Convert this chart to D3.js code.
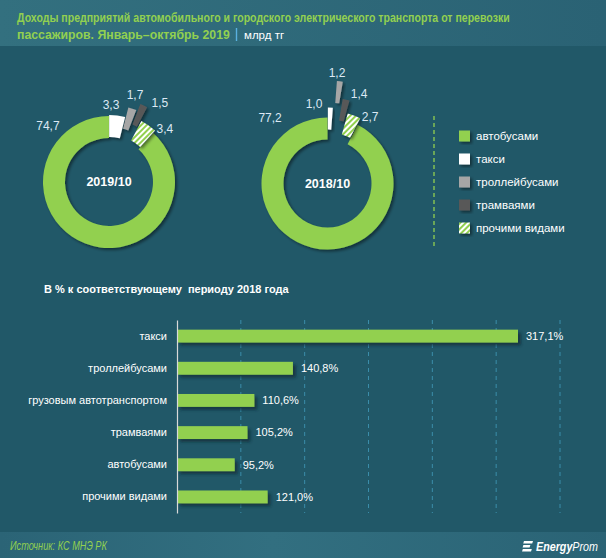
<!DOCTYPE html>
<html><head><meta charset="utf-8">
<script src="https://cdn.jsdelivr.net/npm/d3@7/dist/d3.min.js"></script>
<style>
html,body{margin:0;padding:0;background:#215868;}
svg{display:block;font-family:"Liberation Sans",Arial,sans-serif;}
</style></head>
<body>
<svg id="chart" width="606" height="558"></svg>
<script>
// ---------- DATA ----------
const categories = ["автобусами","такси","троллейбусами","трамваями","прочими видами"];
const values2019 = [74.7, 3.3, 1.7, 1.5, 3.4];
const values2018 = [77.2, 1.0, 1.2, 1.4, 2.7];
const donutTitles = ["2019/10", "2018/10"];
const barCategories = ["такси","троллейбусами","грузовым автотранспортом","трамваями","автобусами","прочими видами"];
const barValues = [317.1, 140.8, 110.6, 105.2, 95.2, 121.0];
const barTicks = [100, 150, 200, 250, 300, 350];
const titleLine1 = "Доходы предприятий автомобильного и городского электрического транспорта от перевозки";
const titleLine2 = "пассажиров. Январь–октябрь 2019";
const unitText = "млрд тг";
const subTitle = "В % к соответствующему  периоду 2018 года";
const sourceText = "Источник: КС МНЭ РК";

// ---------- STYLE / LAYOUT ----------
const W = 606, H = 558;
const GREEN = "#92d050";
const sliceFills = [GREEN, "#ffffff", "#a6a6a6", "#595959", "url(#stripes)"];
const donuts = [
  {values: values2019, cx: 109, cy: 182,
   explode: [0, 1, 11, 18, 3],
   labels: [[-47.4, 83], [1.5, 77], [16.6, 91], [32.8, 94], [46.6, 77]]},
  {values: values2018, cx: 327.5, cy: 183.5,
   explode: [0, 10, 37, 20, 7],
   labels: [[-41.3, 87], [-9.6, 81], [4.9, 111], [19.4, 95], [32.6, 79]]}
];
const R_OUT = 66, R_IN = 44;

const svg = d3.select("#chart");
const defs = svg.append("defs");

// helper: squeeze a text horizontally to a target width using a transform
function fitWidth(sel, x0, y0, target) {
  const n = sel.node().getComputedTextLength();
  const s = Math.min(1, target / n);
  sel.attr("x", 0).attr("y", 0).attr("transform", `translate(${x0},${y0}) scale(${s},1)`);
}

// gradients
const tg = defs.append("linearGradient").attr("id","titleGrad").attr("x1","0").attr("x2","1");
tg.append("stop").attr("offset","0").attr("stop-color","#33707f");
tg.append("stop").attr("offset","1").attr("stop-color","#2a6274");
const fg = defs.append("linearGradient").attr("id","footGrad").attr("x1","0").attr("x2","1");
fg.append("stop").attr("offset","0").attr("stop-color","#2b6476");
fg.append("stop").attr("offset","0.45").attr("stop-color","#326f80");
fg.append("stop").attr("offset","1").attr("stop-color","#2a6375");

// stripes
const pat = defs.append("pattern").attr("id","stripes").attr("patternUnits","userSpaceOnUse")
  .attr("width",4).attr("height",4).attr("patternTransform","rotate(45)");
pat.append("rect").attr("width",4).attr("height",4).attr("fill",GREEN);
pat.append("rect").attr("width",2).attr("height",4).attr("fill","#ffffff");

// shadow
const sh = defs.append("filter").attr("id","shadow").attr("x","-30%").attr("y","-30%").attr("width","160%").attr("height","160%");
sh.append("feDropShadow").attr("dx",2).attr("dy",2).attr("stdDeviation",1.5)
  .attr("flood-color","#000").attr("flood-opacity",0.45);
const sh2 = defs.append("filter").attr("id","shadowBar").attr("x","-10%").attr("y","-40%").attr("width","120%").attr("height","200%");
sh2.append("feDropShadow").attr("dx",3).attr("dy",3).attr("stdDeviation",1.5)
  .attr("flood-color","#0a2a33").attr("flood-opacity",0.7);

// background
svg.append("rect").attr("width",W).attr("height",H).attr("fill","#215868");
svg.append("rect").attr("width",W).attr("height",46).attr("fill","url(#titleGrad)");
svg.append("rect").attr("y",532).attr("width",W).attr("height",H-532).attr("fill","url(#footGrad)");

// title
const tl1 = svg.append("text")
  .attr("font-weight","bold").attr("font-size",13.5).attr("fill",GREEN).text(titleLine1);
fitWidth(tl1, 17, 22, 493);
const tl2 = svg.append("text")
  .attr("font-weight","bold").attr("font-size",13.5).attr("fill",GREEN).text(titleLine2);
fitWidth(tl2, 17, 39, 213);
svg.append("line").attr("x1",236.5).attr("x2",236.5).attr("y1",28).attr("y2",41)
  .attr("stroke","#5ab0e0").attr("stroke-width",1.4);
svg.append("text").attr("x",244).attr("y",39).attr("font-size",11.5).attr("fill","#ffffff").text(unitText);

// ---------- DONUTS ----------
const arc = d3.arc().innerRadius(R_IN).outerRadius(R_OUT);
donuts.forEach((dn, k) => {
  const total = d3.sum(dn.values);
  const a0 = 2*Math.PI*(1 - dn.values[0]/total);
  const pie = d3.pie().sort(null).startAngle(a0).endAngle(a0 + 2*Math.PI);
  const arcs = pie(dn.values);
  const g = svg.append("g").attr("transform",`translate(${dn.cx},${dn.cy})`);
  g.selectAll("path").data(arcs).join("path")
    .attr("d", arc)
    .attr("fill", (d,i) => sliceFills[i])
    .attr("filter","url(#shadow)")
    .attr("transform", (d,i) => {
      const m = (d.startAngle + d.endAngle)/2, e = dn.explode[i];
      return `translate(${e*Math.sin(m)},${-e*Math.cos(m)})`;
    });
  g.append("text").attr("text-anchor","middle").attr("dy","0.35em")
    .attr("font-weight","bold").attr("font-size",12.5).attr("fill","#ffffff")
    .text(donutTitles[k]);
  g.selectAll("text.val").data(arcs).join("text").attr("class","val")
    .attr("text-anchor","middle").attr("dy","0.35em")
    .attr("font-size",12).attr("fill","#dce9f5")
    .attr("x",(d,i) => dn.labels[i][1]*Math.sin(dn.labels[i][0]*Math.PI/180))
    .attr("y",(d,i) => -dn.labels[i][1]*Math.cos(dn.labels[i][0]*Math.PI/180))
    .text(d => d3.format(".1f")(d.data).replace(".", ","));
});

// legend separator
svg.append("line").attr("x1",434).attr("x2",434).attr("y1",116).attr("y2",247)
  .attr("stroke",GREEN).attr("stroke-width",1.3).attr("stroke-dasharray","4,3");
// legend
const leg = svg.append("g");
const ly = d3.scalePoint().domain(categories).range([136, 228]);
leg.selectAll("rect").data(categories).join("rect")
  .attr("x",459).attr("y",d => ly(d)-5.5).attr("width",11).attr("height",11)
  .attr("fill",(d,i)=>sliceFills[i]).attr("filter","url(#shadow)");
leg.selectAll("text").data(categories).join("text")
  .attr("x",476).attr("y",d => ly(d)).attr("dy","0.35em")
  .attr("font-size",11.5).attr("fill","#ffffff").text(d => d);

// ---------- BAR CHART ----------
svg.append("text").attr("x",44).attr("y",293).attr("font-weight","bold")
  .attr("font-size",11).attr("fill","#ffffff").attr("xml:space","preserve").text(subTitle);

const x = d3.scaleLinear().domain([50, 350]).range([177, 560]);
const y = d3.scaleBand().domain(barCategories).range([320, 513]).paddingInner(0.6).paddingOuter(0.3);

svg.append("g").selectAll("line").data(barTicks).join("line")
  .attr("x1",d=>x(d)).attr("x2",d=>x(d)).attr("y1",320).attr("y2",513)
  .attr("stroke","#3b8daa").attr("stroke-width",1).attr("stroke-dasharray","4,4");

svg.append("g").selectAll("rect").data(barValues).join("rect")
  .attr("x",x(50)).attr("y",(d,i)=>y(barCategories[i]))
  .attr("width",d=>x(d)-x(50)).attr("height",y.bandwidth())
  .attr("fill",GREEN).attr("filter","url(#shadowBar)");

const yAxis = d3.axisLeft(y).tickSize(0).tickPadding(10);
const ya = svg.append("g").attr("transform",`translate(${x(50)},0)`).call(yAxis);
ya.select(".domain").attr("stroke","#d9d9d9").attr("stroke-width",1.2);
ya.selectAll("text").attr("font-size",11).attr("fill","#ffffff")
  .attr("font-family","'Liberation Sans',Arial,sans-serif");

svg.append("g").selectAll("text").data(barValues).join("text")
  .attr("x",d=>x(d)+8).attr("y",(d,i)=>y(barCategories[i])+y.bandwidth()/2).attr("dy","0.35em")
  .attr("font-size",11).attr("fill","#ffffff")
  .text(d => d3.format(".1f")(d).replace(".", ",") + "%");

// ---------- FOOTER ----------
const src = svg.append("text")
  .attr("font-style","italic").attr("font-size",12).attr("fill",GREEN).text(sourceText);
fitWidth(src, 10, 550, 97);
// logo
const lg = svg.append("g").attr("transform","translate(522,541)");
[0,4,8].forEach((o,i)=>{
  lg.append("path").attr("d",`M${2-i*0.6},${o} h${9-(i==1?2:0)} l-0.8,2.6 h-${9-(i==1?2:0)} z`).attr("fill","#ffffff");
});
const lt = svg.append("text").attr("font-size",12)
  .attr("font-style","italic").attr("fill","#ffffff");
lt.append("tspan").attr("font-weight","bold").text("Energy");
lt.append("tspan").text("Prom");
fitWidth(lt, 536, 551, 62);
</script>
</body></html>
